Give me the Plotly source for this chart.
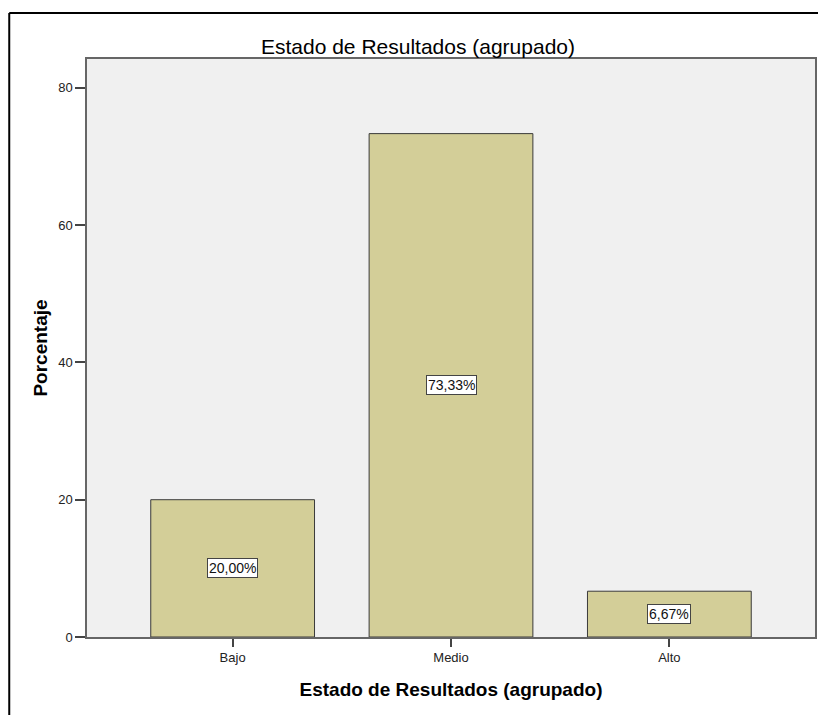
import plotly.graph_objects as go

categories = ["Bajo", "Medio", "Alto"]
percentages = [20.00, 73.33, 6.67]
value_labels = ["20,00%", "73,33%", "6,67%"]
y_ticks = [0, 20, 40, 60, 80]

FONT = "Arial, Liberation Sans, sans-serif"

fig = go.Figure()
fig.add_trace(go.Bar(
    x=categories, y=percentages,
    marker=dict(color="#d3ce98", line=dict(color="#3a3a3a", width=1)),
    hoverinfo="skip",
))

for c, v, t in zip(categories, percentages, value_labels):
    fig.add_annotation(x=c, y=v / 2, text=t, showarrow=False,
                       font=dict(family=FONT, size=14, color="#111"),
                       bgcolor="white", bordercolor="#444", borderwidth=1, borderpad=1)

# outer frame (top and left edges visible)
fig.add_shape(type="line", xref="paper", yref="paper", x0=-0.1068, x1=1.01, y0=1.0796, y1=1.0796,
              line=dict(color="black", width=2))
fig.add_shape(type="line", xref="paper", yref="paper", x0=-0.1068, x1=-0.1068, y0=1.0796, y1=-0.2,
              line=dict(color="black", width=2))

fig.update_layout(
    width=818, height=715,
    margin=dict(l=87, r=1, t=59, b=78),
    paper_bgcolor="white", plot_bgcolor="#f0f0f0",
    bargap=0.25, showlegend=False,
    font=dict(family=FONT, color="#222"),
    title=dict(text="Estado de Resultados (agrupado)", x=418 / 818, xref="container",
               y=1 - 47 / 715, yref="container", xanchor="center", yanchor="middle",
               font=dict(family=FONT, size=21, color="black")),
    xaxis=dict(
        range=[-0.667, 2.667], showline=True, mirror=True, linecolor="#666", linewidth=1.5,
        ticks="outside", ticklen=8, tickcolor="#444", tickwidth=1.5,
        tickfont=dict(family=FONT, size=13, color="#222"), showgrid=False,
        title=dict(text="<b>Estado de Resultados (agrupado)</b>", standoff=18,
                   font=dict(family=FONT, size=19, color="black")),
    ),
    yaxis=dict(
        range=[0, 84.2], tickvals=y_ticks, showline=True, mirror=True, linecolor="#666", linewidth=1.5,
        ticks="outside", ticklen=10, tickcolor="#444", tickwidth=1.5,
        tickfont=dict(family=FONT, size=13, color="#222"), showgrid=False, zeroline=False,
        title=dict(text="<b>Porcentaje</b>", standoff=6,
                   font=dict(family=FONT, size=19, color="black")),
    ),
)

fig.write_html("out.html", config={"displayModeBar": False},
               post_script="document.body.style.margin='0';document.body.style.overflow='hidden';")
